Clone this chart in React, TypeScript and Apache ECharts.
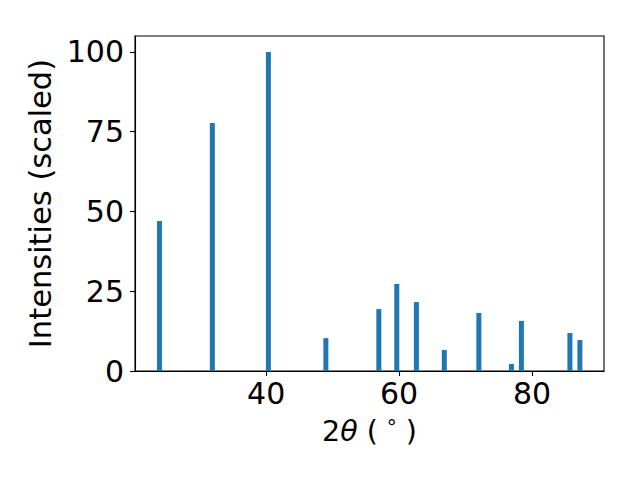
import React, { useEffect, useRef } from "react";
import * as echarts from "echarts";

const peakPositions = [23.94, 31.9, 40.33, 48.98, 56.95, 59.65, 62.6, 66.8, 72.0, 76.9, 78.4, 85.7, 87.2];
const peakIntensities = [47.0, 77.7, 100, 10.3, 19.4, 27.3, 21.6, 6.6, 18.2, 2.2, 15.7, 11.9, 9.7];
const xTicks = [40, 60, 80];
const yTicks = [0, 25, 50, 75, 100];
const xRange = [20.26, 90.83];
const yRange = [0, 105];

const FONT = "DejaVu Sans";

export default function App() {
  const ref = useRef<HTMLDivElement>(null);
  useEffect(() => {
    if (!ref.current) return;
    const chart = echarts.init(ref.current, null, { renderer: "svg" });
    const data = peakPositions.map((x, i) => [x, peakIntensities[i]]);
    chart.setOption({
      animation: false,
      backgroundColor: "#ffffff",
      grid: {
        left: 135,
        right: 36,
        top: 36,
        bottom: 109,
        show: true,
        borderColor: "#000000",
        borderWidth: 1.1,
        backgroundColor: "transparent",
      },
      xAxis: {
        type: "value",
        min: xRange[0],
        max: xRange[1],
        splitLine: { show: false },
        axisLine: { show: true, onZero: false, lineStyle: { color: "#000", width: 1.1 } },
        axisTick: { show: true, length: 5, lineStyle: { color: "#000", width: 1.1 }, customValues: xTicks },
        axisLabel: {
          customValues: xTicks,
          color: "#000",
          fontFamily: FONT,
          fontSize: 30,
          margin: 7,
        },
        name: "2{it|θ} ( {s|°} )",
        nameLocation: "middle",
        nameGap: 46,
        nameTextStyle: {
          color: "#000",
          fontFamily: FONT,
          fontSize: 28.5,
          rich: {
            it: { fontFamily: FONT, fontSize: 28.5, fontStyle: "italic", color: "#000" },
            s: { fontFamily: FONT, fontSize: 20, color: "#000", verticalAlign: "top" },
          },
        },
      },
      yAxis: {
        type: "value",
        min: yRange[0],
        max: yRange[1],
        splitLine: { show: false },
        axisLine: { show: true, lineStyle: { color: "#000", width: 1.1 } },
        axisTick: { show: true, length: 5, lineStyle: { color: "#000", width: 1.1 }, customValues: yTicks },
        axisLabel: {
          customValues: yTicks,
          color: "#000",
          fontFamily: FONT,
          fontSize: 30,
          margin: 11,
        },
        name: "Intensities (scaled)",
        nameLocation: "middle",
        nameGap: 73,
        nameRotate: 90,
        nameTextStyle: { color: "#000", fontFamily: FONT, fontSize: 30.5 },
      },
      series: [
        {
          type: "bar",
          data,
          barWidth: 5,
          itemStyle: { color: "#1f77b4" },
        },
      ],
    });
    return () => chart.dispose();
  }, []);
  return (
    <div
      ref={ref}
      style={{ position: "fixed", left: 0, top: 0, width: 640, height: 480, background: "#fff" }}
    />
  );
}
